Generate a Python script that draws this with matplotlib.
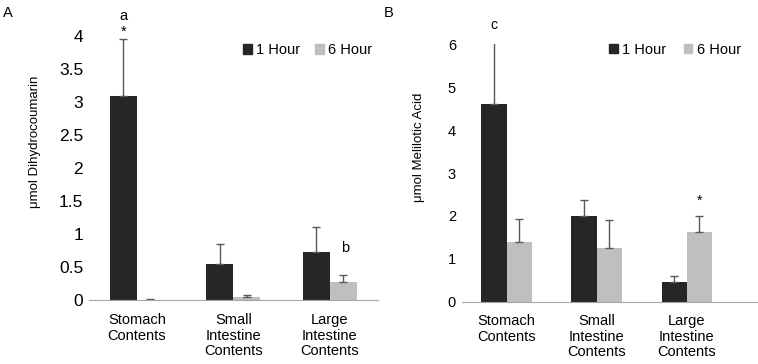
import numpy as np
import matplotlib.pyplot as plt
from matplotlib.patches import Patch

plt.rcParams['font.family'] = ['Liberation Sans', 'DejaVu Sans']

categories = ['Stomach\nContents', 'Small\nIntestine\nContents', 'Large\nIntestine\nContents']
series = ['1 Hour', '6 Hour']

# panel A - dihydrocoumarin
a_1h = [3.09, 0.55, 0.74]
a_1h_err = [0.86, 0.30, 0.37]
a_6h = [0.005, 0.05, 0.28]
a_6h_err = [0.015, 0.03, 0.11]

# panel B - melilotic acid
b_1h = [4.60, 1.99, 0.45]
b_1h_err = [1.49, 0.38, 0.14]
b_6h = [1.40, 1.24, 1.62]
b_6h_err = [0.53, 0.66, 0.38]

dark = '#262626'
light = '#bfbfbf'
errc = '#595959'
w = 0.28

fig = plt.figure(figsize=(7.58, 3.64), dpi=100)
axA = fig.add_axes([0.117, 0.1745, 0.3817, 0.7266])
axB = fig.add_axes([0.609, 0.1712, 0.3896, 0.707])


def draw(ax, v1, e1, v6, e6, ysize):
    x = np.arange(len(categories))
    ax.bar(x - w/2, v1, w, color=dark)
    ax.bar(x + w/2, v6, w, color=light)
    ax.errorbar(x - w/2, v1, yerr=[np.zeros(3), e1], fmt='none',
                ecolor=errc, elinewidth=1, capsize=3, capthick=1)
    ax.errorbar(x + w/2, v6, yerr=[np.zeros(3), e6], fmt='none',
                ecolor=errc, elinewidth=1, capsize=3, capthick=1)
    ax.set_xticks(x)
    ax.set_xticklabels(categories, fontsize=10.5, linespacing=1.15)
    for s in ['top', 'right', 'left']:
        ax.spines[s].set_visible(False)
    ax.spines['bottom'].set_color('#a6a6a6')
    ax.tick_params(axis='both', length=0)
    ax.tick_params(axis='x', pad=9)
    ax.tick_params(axis='y', pad=4, labelsize=ysize)
    handles = [Patch(color=dark), Patch(color=light)]
    return handles


h = draw(axA, a_1h, a_1h_err, a_6h, a_6h_err, 12.5)
axA.set_xlim(-0.5, 2.5)
axA.set_ylim(0, 4)
axA.set_yticks([0, 0.5, 1, 1.5, 2, 2.5, 3, 3.5, 4])
axA.set_yticklabels(['0', '0.5', '1', '1.5', '2', '2.5', '3', '3.5', '4'])
axA.set_ylabel('\u03bcmol Dihydrocoumarin', fontsize=9.5)
axA.yaxis.set_label_coords(-0.165, 0.6)
axA.legend(h, series, loc='center right', bbox_to_anchor=(1.0, 0.947), ncol=2,
           frameon=False, fontsize=10.5, handlelength=0.6, handleheight=0.6,
           handletextpad=0.3, columnspacing=1.0, borderaxespad=0)
axA.text(0 - w/2, 4.30, 'a', ha='center', va='center', fontsize=10.5)
axA.text(0 - w/2, 4.07, '*', ha='center', va='center', fontsize=10.5)
axA.text(2 + w/2 + 0.02, 0.8, 'b', ha='center', va='center', fontsize=10.5)
fig.text(0.004, 0.965, 'A', fontsize=10.5, va='center')

h = draw(axB, b_1h, b_1h_err, b_6h, b_6h_err, 10.5)
axB.set_xlim(-0.5, 2.78)
axB.set_ylim(0, 6)
axB.set_yticks([0, 1, 2, 3, 4, 5, 6])
axB.set_ylabel('\u03bcmol Melilotic Acid', fontsize=9.5)
axB.yaxis.set_label_coords(-0.125, 0.6)
axB.legend(h, series, loc='center right', bbox_to_anchor=(0.965, 0.978), ncol=2,
           frameon=False, fontsize=10.5, handlelength=0.6, handleheight=0.6,
           handletextpad=0.3, columnspacing=1.2, borderaxespad=0)
axB.text(0 - w/2, 6.45, 'c', ha='center', va='center', fontsize=10)
axB.text(2 + w/2, 2.35, '*', ha='center', va='center', fontsize=10)
fig.text(0.506, 0.965, 'B', fontsize=10.5, va='center')

plt.savefig('out.png', dpi=100)
